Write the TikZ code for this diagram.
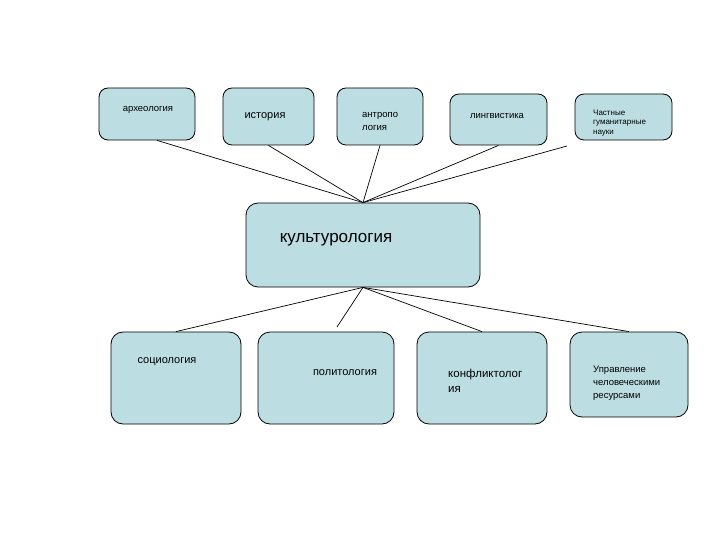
\documentclass[tikz,border=0pt]{standalone}
\usepackage{fontspec}
\setmainfont{Liberation Sans}
\usepackage{tikz}
\definecolor{boxblue}{RGB}{188,222,226}
\tikzset{
  box/.style={draw, line width=0.8pt, rounded corners=9pt, fill=boxblue, inner sep=0pt},
  link/.style={line width=0.7pt},
  lbl/.style={inner sep=0pt, align=left}
}
\newcommand{\fs}[2]{\fontsize{#1}{#2}\selectfont}

\begin{document}
\begin{tikzpicture}[x=1pt, y=-1pt]
        \useasboundingbox (0,0) rectangle (720,540);
        % upper row
        \node [box, minimum width=96pt,  minimum height=52pt] (arch)  at (147,114)   {};
        \node [box, minimum width=91pt,  minimum height=57pt] (ist)   at (268.5,116.5) {};
        \node [box, minimum width=86pt,  minimum height=57pt] (antr)  at (380,116.5) {};
        \node [box, minimum width=97pt,  minimum height=51pt] (ling)  at (498.5,119.5) {};
        \node [box, minimum width=97pt,  minimum height=46pt] (chast) at (623.5,117) {};
        % centre
        \node [box, rounded corners=12pt, minimum width=234pt, minimum height=84pt] (kult) at (363,245) {};
        % lower row
        \node [box, rounded corners=12pt, minimum width=130pt, minimum height=92pt] (soc)  at (176,378)   {};
        \node [box, rounded corners=12pt, minimum width=136pt, minimum height=92pt] (pol)  at (326,378)   {};
        \node [box, rounded corners=12pt, minimum width=130pt, minimum height=92pt] (konf) at (482,378)   {};
        \node [box, rounded corners=12pt, minimum width=118pt, minimum height=85pt] (upr)  at (629,374.5) {};

        % texts
        \node [lbl, font=\fs{9.5}{12}] (t-arch)  at (148,110)   {археология};
        \node [lbl, font=\fs{11}{13}]  (t-ist)   at (265,117)   {история};
        \node [lbl, font=\fs{9.5}{13}, anchor=west] (t-antr) at (362,121.5) {антропо\\логия};
        \node [lbl, font=\fs{9.5}{12}] (t-ling)  at (497,116)   {лингвистика};
        \node [lbl, font=\fs{8}{9.5}, anchor=west] (t-chast) at (593,123) {Частные\\гуманитарные\\науки};
        \node [lbl, font=\fs{17}{20}]  (t-kult)  at (336,240)   {культурология};
        \node [lbl, font=\fs{11}{13}]  (t-soc)   at (167,362)   {социология};
        \node [lbl, font=\fs{11}{13}]  (t-pol)   at (345,373)   {политология};
        \node [lbl, font=\fs{11.5}{15}, anchor=west] (t-konf) at (448,380.5) {конфликтолог\\ия};
        \node [lbl, font=\fs{9.5}{13}, anchor=west]  (t-upr)  at (593,383)   {Управление\\человеческими\\ресурсами};

        % free line ends
        \coordinate (chast-end) at (567,146);
        \coordinate (pol-end)   at (337,327);

        % links to the top row
        \draw [link] ([xshift=10pt]arch.south) -- (kult.north);
        \draw [link] (ist.south)               -- (kult.north);
        \draw [link] (antr.south)              -- (kult.north);
        \draw [link] (ling.south)              -- (kult.north);
        \draw [link] (chast-end)               -- (kult.north);
        % links to the bottom row
        \draw [link] (kult.south) -- (soc.north);
        \draw [link] (kult.south) -- (pol-end);
        \draw [link] (kult.south) -- (konf.north);
        \draw [link] (kult.south) -- (upr.north);
      \end{tikzpicture}
\end{document}
